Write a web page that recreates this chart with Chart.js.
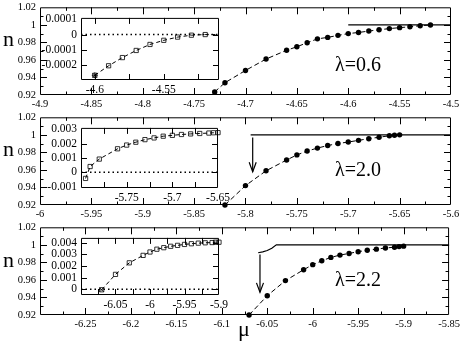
<!DOCTYPE html>
<html lang="en">
<head>
  <meta charset="UTF-8">
  <title>n versus mu for three lambda values</title>
  <script src="https://cdn.jsdelivr.net/npm/chart.js@4"></script>
  <style>
    body { margin: 0; background: #fff; }
    #fig { position: relative; width: 463px; height: 347px; overflow: hidden; background: #fff; }
    #fig canvas { position: absolute; }
    .lab { position: absolute; font-family: "Liberation Serif", serif; line-height: 1; white-space: nowrap; color: #000; }
    .axn { font-size: 22px; left: 3px; }
    .lam { font-size: 20px; left: 335px; }
  </style>
</head>
<body>
<div id="fig">
  <canvas id="main1"></canvas>
  <canvas id="main2"></canvas>
  <canvas id="main3"></canvas>
  <canvas id="ins1"></canvas>
  <canvas id="ins2"></canvas>
  <canvas id="ins3"></canvas>

  <div class="lab axn" style="top:28px">n</div>
  <div class="lab axn" style="top:138px">n</div>
  <div class="lab axn" style="top:249px">n</div>
  <div class="lab" style="font-size:22px; left:238px; top:318px">μ</div>

  <div class="lab lam" style="top:54px">λ=0.6</div>
  <div class="lab lam" style="top:159px">λ=2.0</div>
  <div class="lab lam" style="top:269px">λ=2.2</div>
</div>

<script>
// ---- panel 1, lambda = 0.6 ----
const mu1 = [-4.73, -4.72, -4.70, -4.68, -4.66, -4.65, -4.64, -4.63, -4.62, -4.61, -4.60, -4.59, -4.58, -4.57, -4.56, -4.55, -4.54, -4.53, -4.52];
const n1 = [0.9235, 0.934, 0.948, 0.961, 0.971, 0.975, 0.9796, 0.984, 0.9857, 0.988, 0.990, 0.9913, 0.9929, 0.9944, 0.9957, 0.9968, 0.9978, 0.999, 0.9998];
const flat1Mu = [-4.6, -4.5];
const flat1N = [1, 1];
const inMu1 = [-4.60, -4.59, -4.58, -4.57, -4.56, -4.55, -4.54, -4.53, -4.52, -4.51];
const inD1 = [-0.000269, -0.000206, -0.000152, -0.000105, -0.0000653, -0.0000379, -0.0000168, -0.0000042, 0, 0];

// ---- panel 2, lambda = 2.0 ----
const mu2 = [-5.82, -5.80, -5.78, -5.76, -5.75, -5.74, -5.73, -5.72, -5.71, -5.70, -5.69, -5.68, -5.67, -5.66, -5.655, -5.65];
const n2 = [0.920, 0.9421, 0.959, 0.9713, 0.9771, 0.9815, 0.9849, 0.9878, 0.9901, 0.9918, 0.9937, 0.9956, 0.9973, 0.9989, 0.9996, 1.0];
const flat2Mu = [-5.795, -5.6];
const flat2N = [1, 1];
const arrow2Mu = [-5.793, -5.793];
const arrow2N = [0.997, 0.958];
const inMu2 = [-5.795, -5.79, -5.78, -5.76, -5.75, -5.74, -5.73, -5.72, -5.71, -5.70, -5.69, -5.68, -5.67, -5.66, -5.655, -5.65];
const inD2 = [-0.00043, 0.0004, 0.00092, 0.00164, 0.0019, 0.0021, 0.00228, 0.0024, 0.00252, 0.00258, 0.00264, 0.00268, 0.00271, 0.00274, 0.00276, 0.00277];

// ---- panel 3, lambda = 2.2 ----
const mu3 = [-6.07, -6.05, -6.03, -6.01, -6.00, -5.99, -5.98, -5.97, -5.96, -5.95, -5.94, -5.93, -5.92, -5.91, -5.905, -5.90];
const n3 = [0.92, 0.942, 0.9592, 0.9716, 0.9774, 0.9818, 0.9857, 0.9883, 0.9902, 0.9922, 0.9938, 0.9951, 0.9964, 0.9973, 0.998, 0.9985];
const flat3Mu = [-6.06, -6.055, -6.05, -6.045, -6.04, -5.85];
const flat3N = [0.991, 0.992, 0.9935, 0.9962, 1.0, 1.0];
const arrow3Mu = [-6.058, -6.058];
const arrow3N = [0.989, 0.946];
const inD3 = [-0.00005, 0.00127, 0.00226, 0.0029, 0.00319, 0.00343, 0.00356, 0.00368, 0.00376, 0.00384, 0.0039, 0.00395, 0.00398, 0.004, 0.00403, 0.00403];

// ---- axis ranges and tick labels ----
const nRange = [0.92, 1.02];
const nTicks = [0.92, 0.94, 0.96, 0.98, 1, 1.02];
const x1Range = [-4.9, -4.5];
const x1Ticks = [-4.9, -4.85, -4.8, -4.75, -4.7, -4.65, -4.6, -4.55, -4.5];
const x2Range = [-6, -5.6];
const x2Ticks = [-6, -5.95, -5.9, -5.85, -5.8, -5.75, -5.7, -5.65, -5.6];
const x3Range = [-6.3, -5.85];
const x3Ticks = [-6.25, -6.2, -6.15, -6.1, -6.05, -6, -5.95, -5.9, -5.85];

const ix1Range = [-4.61, -4.51];
const ix1Ticks = [-4.6, -4.55];
const iy1Range = [-0.0003, 0.00011];
const iy1Ticks = [-0.0002, -0.0001, 0, 0.0001];
const ix2Range = [-5.8, -5.65];
const ix2Ticks = [-5.75, -5.7, -5.65];
const iy2Range = [-0.0011, 0.0031];
const iy2Ticks = [-0.001, 0, 0.001, 0.002, 0.003];
const ix3Range = [-6.1, -5.9];
const ix3Ticks = [-6.05, -6, -5.95, -5.9];
const iy3Range = [-0.0005, 0.0044];
const iy3Ticks = [0, 0.001, 0.002, 0.003, 0.004];

Chart.defaults.font.family = '"Liberation Serif", serif';
Chart.defaults.color = '#000';

function pts(xs, ys) {
  return xs.map((x, i) => ({ x: x, y: ys[i] }));
}

// inward ticks on all four sides plus the frame
const frameTicks = {
  id: 'frameTicks',
  afterDatasetsDraw(chart, args, o) {
    const { ctx, chartArea: a } = chart;
    const sx = chart.scales.x, sy = chart.scales.y;
    ctx.save();
    ctx.strokeStyle = '#000';
    ctx.lineWidth = 1;
    ctx.beginPath();
    ctx.rect(a.left + 0.5, a.top + 0.5, a.right - a.left - 1, a.bottom - a.top - 1);

    let half = o.xStep / 2;
    for (let k = Math.ceil(sx.min / half - 1e-6); k * half <= sx.max + 1e-9; k++) {
      const major = k % 2 === 0;
      const px = Math.round(sx.getPixelForValue(k * half)) + 0.5;
      if (px < a.left + 2 || px > a.right - 2) continue;
      const len = major ? o.major : o.minor;
      ctx.moveTo(px, a.bottom); ctx.lineTo(px, a.bottom - len);
      ctx.moveTo(px, a.top); ctx.lineTo(px, a.top + len);
    }
    half = o.yStep / 2;
    for (let k = Math.ceil(sy.min / half - 1e-6); k * half <= sy.max + 1e-12; k++) {
      const major = k % 2 === 0;
      if (!major && !o.yMinor) continue;
      const py = Math.round(sy.getPixelForValue(k * half)) + 0.5;
      if (py < a.top + 2 || py > a.bottom - 2) continue;
      const len = major ? o.major : o.minor;
      ctx.moveTo(a.left, py); ctx.lineTo(a.left + len, py);
      ctx.moveTo(a.right, py); ctx.lineTo(a.right - len, py);
    }
    ctx.stroke();
    ctx.restore();
  }
};

// open arrow head at the last point of datasets flagged with arrow: true
const arrowHead = {
  id: 'arrowHead',
  afterDatasetsDraw(chart) {
    const ctx = chart.ctx;
    chart.data.datasets.forEach((ds, i) => {
      if (!ds.arrow) return;
      const el = chart.getDatasetMeta(i).data;
      const p = el[el.length - 1], q = el[el.length - 2];
      const ang = Math.atan2(p.y - q.y, p.x - q.x);
      const len = 10, spread = 0.36;
      ctx.save();
      ctx.strokeStyle = '#000';
      ctx.lineWidth = 1.2;
      ctx.beginPath();
      ctx.moveTo(p.x - len * Math.cos(ang - spread), p.y - len * Math.sin(ang - spread));
      ctx.lineTo(p.x, p.y);
      ctx.lineTo(p.x - len * Math.cos(ang + spread), p.y - len * Math.sin(ang + spread));
      ctx.stroke();
      ctx.restore();
    });
  }
};

function axisOpts(range, labels, pos, size, fontSize) {
  return {
    type: 'linear',
    position: pos,
    min: range[0],
    max: range[1],
    grid: { display: false, drawTicks: false },
    border: { display: false },
    afterBuildTicks: s => { s.ticks = labels.map(v => ({ value: v })); },
    afterFit: s => { if (pos === 'left') s.width = size; else s.height = size; },
    ticks: {
      autoSkip: false, maxRotation: 0, minRotation: 0,
      padding: pos === 'left' ? 4 : 3,
      color: '#000',
      font: { size: fontSize },
      callback: v => String(+v.toFixed(6))
    }
  };
}

function makeChart(id, box, pad, xr, xl, yr, yl, marks, datasets) {
  const cv = document.getElementById(id);
  cv.width = pad.l + box.w + pad.r;
  cv.height = pad.t + box.h + pad.b;
  cv.style.left = (box.x - pad.l) + 'px';
  cv.style.top = (box.y - pad.t) + 'px';
  return new Chart(cv, {
    type: 'scatter',
    data: { datasets: datasets },
    options: {
      responsive: false,
      animation: false,
      events: [],
      layout: { padding: { left: 0, top: pad.t, right: pad.r, bottom: 0 } },
      scales: {
        x: axisOpts(xr, xl, 'bottom', pad.b, pad.font),
        y: axisOpts(yr, yl, 'left', pad.l, pad.font)
      },
      plugins: { legend: { display: false }, tooltip: { enabled: false }, frameTicks: marks }
    },
    plugins: [frameTicks, arrowHead]
  });
}

// dataset styles
const dots = data => ({ data, showLine: true, clip: false, borderColor: '#000', borderWidth: 1, borderDash: [5, 3],
  pointStyle: 'circle', pointRadius: 2.7, pointBackgroundColor: '#000', pointBorderColor: '#000', pointBorderWidth: 0 });
const squares = (data, nSym) => ({ data, showLine: true, clip: false, borderColor: '#000', borderWidth: 1, borderDash: [4, 3],
  pointStyle: 'rect', pointRadius: data.map((d, i) => i < nSym ? 3 : 0), pointBackgroundColor: 'rgba(0,0,0,0)',
  pointBorderColor: '#000', pointBorderWidth: 0.8 });
const solid = data => ({ data, showLine: true, clip: false, borderColor: '#000', borderWidth: 1.2, pointRadius: 0 });
const arrow = data => ({ data, showLine: true, clip: false, borderColor: '#000', borderWidth: 1.2, pointRadius: 0, arrow: true });
const dotted = range => ({ data: pts(range, [0, 0]), showLine: true, borderColor: '#000', borderWidth: 1.5,
  borderDash: [1.5, 3], pointRadius: 0 });
const marker = (x, y, style) => ({ data: [{ x: x, y: y }], pointStyle: style, pointRadius: 3, clip: false,
  pointBorderColor: '#000', pointBackgroundColor: 'rgba(0,0,0,0)', pointBorderWidth: 0.8 });

const mainPad = { l: 40, r: 12, t: 8, b: 18, font: 10.5 };
const insPad = { l: 45, r: 14, t: 8, b: 17, font: 11.5 };
const mainMarks = { xStep: 0.05, yStep: 0.02, yMinor: true, major: 7, minor: 3.5 };

makeChart('main1', { x: 40, y: 5, w: 411, h: 90 }, mainPad, x1Range, x1Ticks, nRange, nTicks, mainMarks, [
  dots(pts(mu1, n1)),
  solid(pts(flat1Mu, flat1N))
]);
makeChart('main2', { x: 40, y: 115, w: 411, h: 90 }, mainPad, x2Range, x2Ticks, nRange, nTicks, mainMarks, [
  dots(pts(mu2, n2)),
  solid(pts(flat2Mu, flat2N)),
  arrow(pts(arrow2Mu, arrow2N))
]);
makeChart('main3', { x: 40, y: 225, w: 411, h: 90 }, mainPad, x3Range, x3Ticks, nRange, nTicks, mainMarks, [
  dots(pts(mu3, n3)),
  solid(pts(flat3Mu, flat3N)),
  arrow(pts(arrow3Mu, arrow3N))
]);

makeChart('ins1', { x: 81, y: 15, w: 138, h: 65 }, insPad, ix1Range, ix1Ticks, iy1Range, iy1Ticks,
  { xStep: 0.05, yStep: 0.0001, yMinor: false, major: 6, minor: 6 }, [
  squares(pts(inMu1, inD1), 9),
  marker(inMu1[0], inD1[0], 'star'),
  dotted(ix1Range)
]);
makeChart('ins2', { x: 81, y: 125, w: 138, h: 63 }, insPad, ix2Range, ix2Ticks, iy2Range, iy2Ticks,
  { xStep: 0.05, yStep: 0.001, yMinor: false, major: 6, minor: 6 }, [
  squares(pts(inMu2, inD2), inMu2.length),
  dotted(ix2Range)
]);
makeChart('ins3', { x: 81, y: 235, w: 138, h: 60 }, insPad, ix3Range, ix3Ticks, iy3Range, iy3Ticks,
  { xStep: 0.05, yStep: 0.001, yMinor: false, major: 6, minor: 6 }, [
  squares(pts(mu3, inD3), mu3.length),
  marker(mu3[0], inD3[0], 'crossRot'),
  dotted(ix3Range)
]);
</script>
</body>
</html>
